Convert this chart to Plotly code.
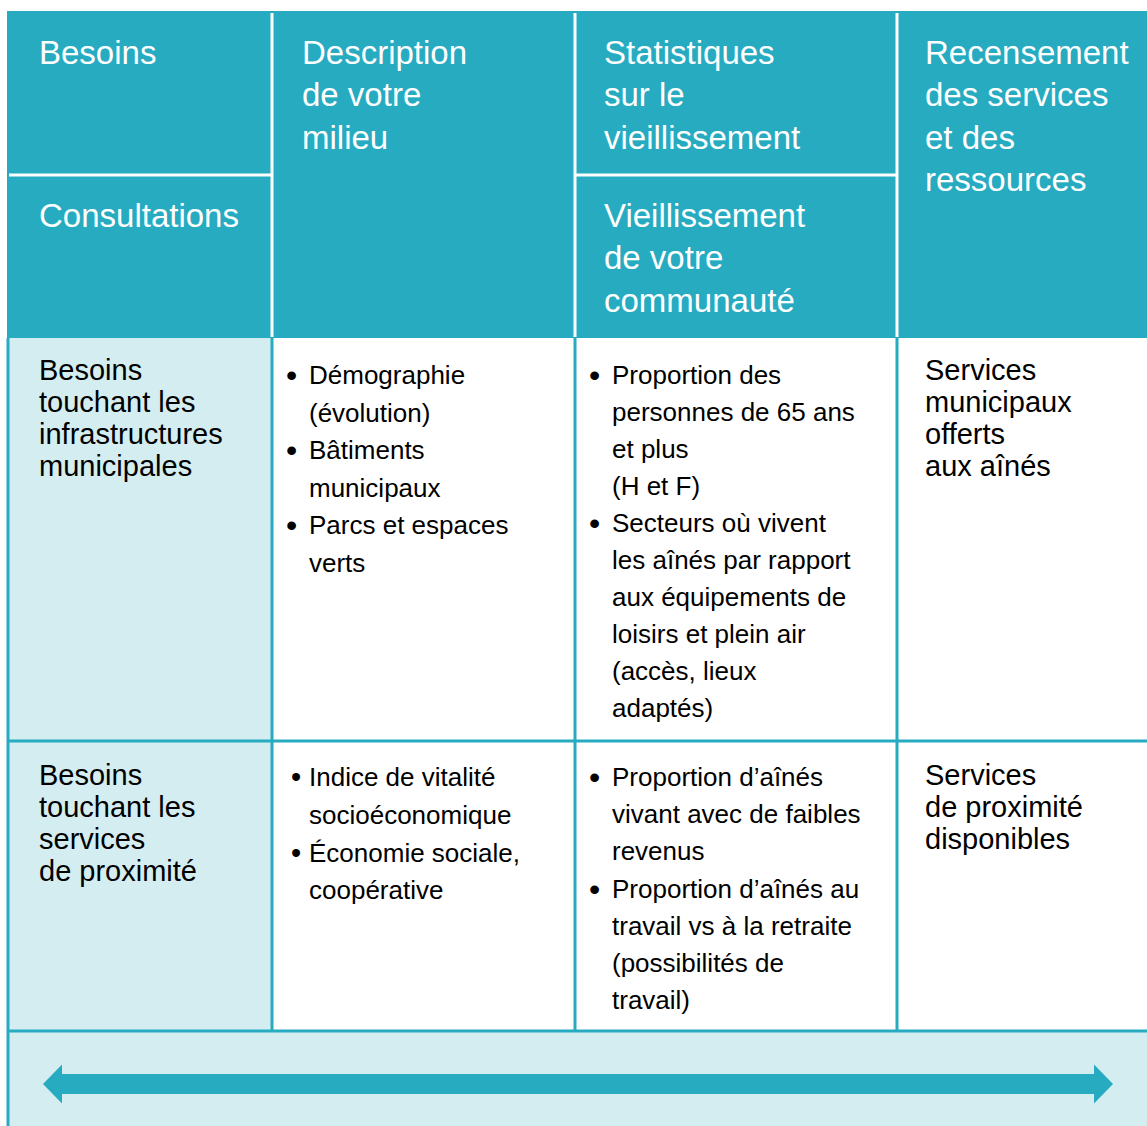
import plotly.graph_objects as go

W, H = 1147, 1126
TEAL = "#26ABC1"
LIGHT = "#D4EDF1"
FONT = "Liberation Sans, Arial, Helvetica, sans-serif"

# ---- content ----
header_top = {
    "Besoins": ["Besoins"],
    "Description": ["Description", "de votre", "milieu"],
    "Statistiques": ["Statistiques", "sur le", "vieillissement"],
    "Recensement": ["Recensement", "des services", "et des", "ressources"],
}
header_bottom = {
    "Consultations": ["Consultations"],
    "Vieillissement": ["Vieillissement", "de votre", "communauté"],
}

row1_col1 = ["Besoins", "touchant les", "infrastructures", "municipales"]
row1_col2 = [["Démographie", "(évolution)"],
             ["Bâtiments", "municipaux"],
             ["Parcs et espaces", "verts"]]
row1_col3 = [["Proportion des", "personnes de 65 ans", "et plus", "(H et F)"],
             ["Secteurs où vivent", "les aînés par rapport", "aux équipements de",
              "loisirs et plein air", "(accès, lieux", "adaptés)"]]
row1_col4 = ["Services", "municipaux", "offerts", "aux aînés"]

row2_col1 = ["Besoins", "touchant les", "services", "de proximité"]
row2_col2 = [["Indice de vitalité", "socioéconomique"],
             ["Économie sociale,", "coopérative"]]
row2_col3 = [["Proportion d’aînés", "vivant avec de faibles", "revenus"],
             ["Proportion d’aînés au", "travail vs à la retraite",
              "(possibilités de", "travail)"]]
row2_col4 = ["Services", "de proximité", "disponibles"]

# ---- geometry ----
X0, XC1, XC2, XC3, X1 = 8, 272, 575, 897, W
Y_TOP, Y_HMID, Y_HEAD, Y_R1, Y_R2 = 11, 175, 338, 741, 1031
YB = H

fig = go.Figure()
shapes = []
ann = []

def rect(x0, y0, x1, y1, color):
    shapes.append(dict(type="rect", xref="x", yref="y", x0=x0, y0=y0, x1=x1, y1=y1,
                       fillcolor=color, line=dict(width=0), layer="below"))

def line(x0, y0, x1, y1, color, w=3):
    shapes.append(dict(type="line", xref="x", yref="y", x0=x0, y0=y0, x1=x1, y1=y1,
                       line=dict(color=color, width=w)))

# header block
rect(7, Y_TOP, X1, Y_HEAD, TEAL)
# light cells
rect(X0, Y_HEAD, XC1, Y_R2, LIGHT)
rect(X0, Y_R2, X1, YB, LIGHT)

# header white dividers
for xc in (XC1, XC2, XC3):
    line(xc, Y_TOP + 2, xc, Y_HEAD - 1, "white")
line(X0 + 1, Y_HMID, XC1 - 1, Y_HMID, "white")
line(XC2 + 1, Y_HMID, XC3 - 1, Y_HMID, "white")

# body teal grid
line(X0, Y_HEAD, X0, YB, TEAL)
for xc in (XC1, XC2, XC3):
    line(xc, Y_HEAD, xc, Y_R2, TEAL)
line(X0, Y_R1, X1, Y_R1, TEAL)
line(X0, Y_R2, X1, Y_R2, TEAL)

# double arrow
ay = 1084
sh, hh = 10, 19.5
lt, lb, rb, rt = 43, 62, 1094, 1113
path = (f"M {lt},{ay} L {lb},{ay-hh} L {lb},{ay-sh} L {rb},{ay-sh} L {rb},{ay-hh} "
        f"L {rt},{ay} L {rb},{ay+hh} L {rb},{ay+sh} L {lb},{ay+sh} L {lb},{ay+hh} Z")
shapes.append(dict(type="path", xref="x", yref="y", path=path, fillcolor=TEAL,
                   line=dict(width=0)))

def text(x, y, s, size, color="black"):
    ann.append(dict(x=x, y=y, xref="x", yref="y", text=s, showarrow=False,
                    xanchor="left", yanchor="middle",
                    font=dict(family=FONT, size=size, color=color)))

def lines(x, y0, items, step, size, color="black"):
    for i, s in enumerate(items):
        text(x, y0 + i * step, s, size, color)

# header text
HS, HSTEP = 33, 42.5
lines(37, 52, header_top["Besoins"], HSTEP, HS, "white")
lines(37, 215, header_bottom["Consultations"], HSTEP, HS, "white")
lines(300, 52, header_top["Description"], HSTEP, HS, "white")
lines(602, 52, header_top["Statistiques"], HSTEP, HS, "white")
lines(602, 215, header_bottom["Vieillissement"], HSTEP, HS, "white")
lines(923, 52, header_top["Recensement"], HSTEP, HS, "white")

# plain cells
PS, PSTEP = 29, 32
lines(37, 370, row1_col1, PSTEP, PS)
lines(923, 370, row1_col4, PSTEP, PS)
lines(37, 775, row2_col1, PSTEP, PS)
lines(923, 775, row2_col4, PSTEP, PS)

# bullet cells
BS = 26
def bullets(xb, xt, y0, groups, step, bsize):
    y = y0
    for g in groups:
        text(xb, y, "•", bsize)
        for s in g:
            text(xt, y, s, BS)
            y += step

bullets(284, 307, 375, row1_col2, 37.6, 32)
bullets(587, 610, 375, row1_col3, 37.0, 32)
bullets(289, 307, 777, row2_col2, 37.8, 29)
bullets(587, 610, 777, row2_col3, 37.2, 32)

fig.update_layout(
    width=W, height=H, margin=dict(l=0, r=0, t=0, b=0),
    paper_bgcolor="white", plot_bgcolor="white",
    xaxis=dict(range=[0, W], visible=False, fixedrange=True),
    yaxis=dict(range=[H, 0], visible=False, fixedrange=True),
    shapes=shapes, annotations=ann, showlegend=False,
)
fig.write_html("out.html", config={"displayModeBar": False},
               post_script="document.body.style.margin='0';document.body.style.overflow='hidden';")
